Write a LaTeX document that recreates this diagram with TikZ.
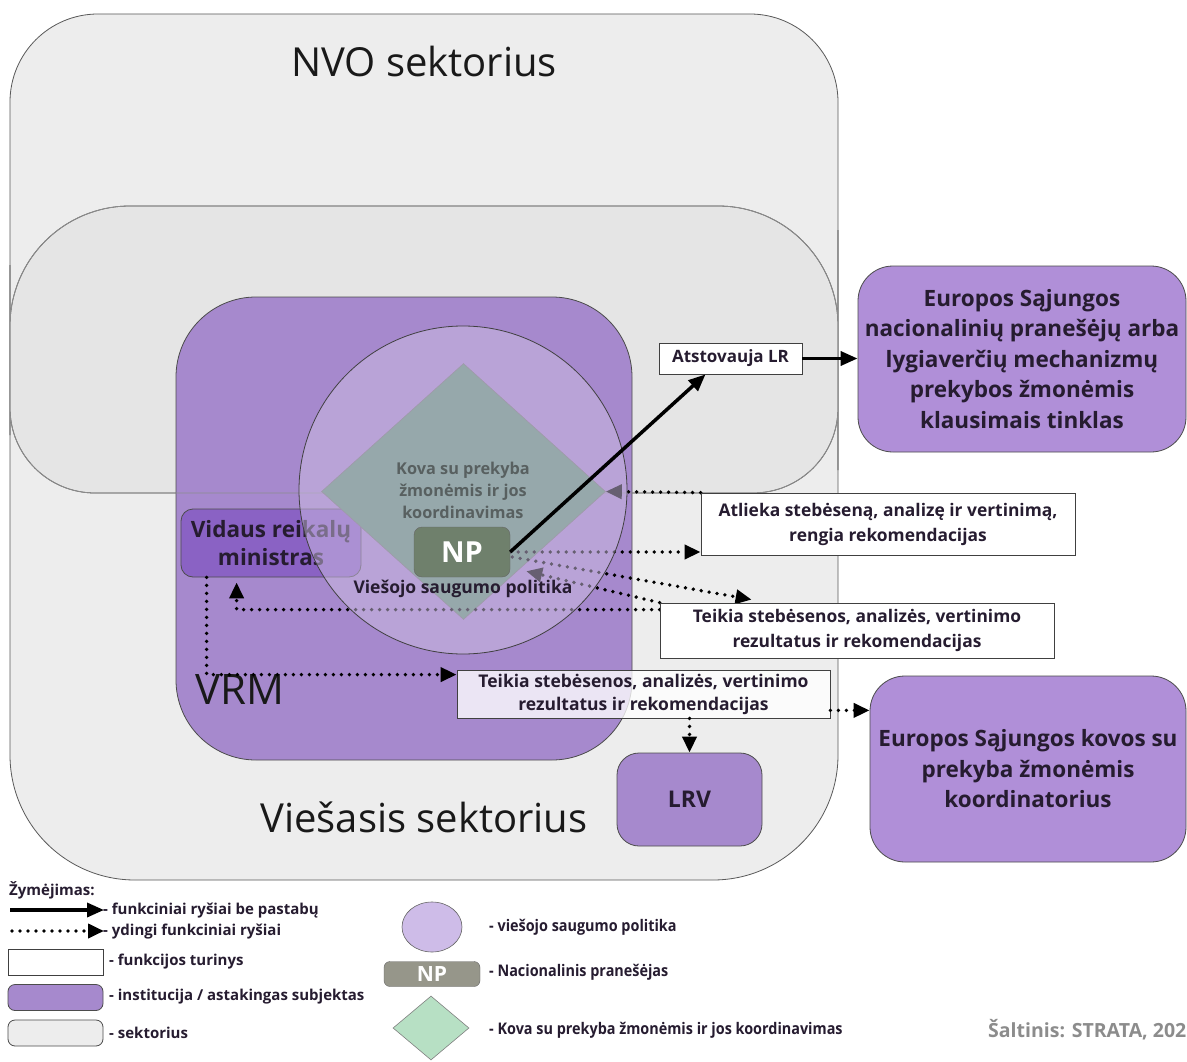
\documentclass[tikz,border=0pt]{standalone}
\usepackage{fontspec}
\setmainfont{Open Sans}
\newfontfamily\narrowfont{Open Sans}[FakeStretch=0.9]
\usetikzlibrary{arrows.meta, shapes.geometric, positioning, calc}
\pgfdeclarelayer{bg}
\pgfdeclarelayer{lines}
\pgfsetlayers{bg,lines,main}
\definecolor{outergray}{RGB}{237,237,237}
\definecolor{innergray}{RGB}{229,229,229}
\definecolor{vrmpurple}{RGB}{166,137,205}
\definecolor{eupurple}{RGB}{176,143,216}
\definecolor{minpurple}{RGB}{138,98,196}
\definecolor{vsppurple}{RGB}{205,190,226}
\definecolor{kovagreen}{RGB}{95,146,116}
\definecolor{kovatext}{RGB}{88,96,96}
\definecolor{npgreen}{RGB}{111,128,108}
\definecolor{npgray}{RGB}{150,150,138}
\definecolor{legpurple}{RGB}{206,188,232}
\definecolor{leggreen}{RGB}{183,224,196}
\definecolor{textdark}{RGB}{38,28,48}
\definecolor{srcgray}{RGB}{140,140,140}
\newcommand{\fs}[2]{\fontsize{#1}{#2}\selectfont}
\tikzset{
  sector/.style={fill=outergray, draw=black!65, line width=0.8pt},
  inst/.style={draw=black!70, fill=vrmpurple, line width=0.8pt, rounded corners=22pt, inner sep=0pt, align=center, text=textdark},
  funcbox/.style={draw=black!75, fill=white, line width=0.8pt, inner sep=0pt, align=center, text=textdark, font=\fs{17.4}{25}\bfseries},
  solidarrow/.style={line width=3.5pt, -{Triangle[length=17pt,width=14pt]}},
  dotarrow/.style={line width=3.8pt, line cap=round, dash pattern=on 0pt off 8pt, -{Triangle[length=16pt,width=14pt]}},
  legtxt/.style={anchor=west, inner sep=0pt, text=textdark, font=\fs{15}{17}\bfseries},
  legtxtb/.style={anchor=west, inner sep=0pt, text=textdark, font=\narrowfont\fs{16}{18}\bfseries}
}
\begin{document}
\begin{tikzpicture}[x=1pt,y=-1pt]
\useasboundingbox (0,0) rectangle (1187,1062);
\begin{pgfonlayer}{bg}
\fill[white] (0,0) rectangle (1187,1062);
\draw[sector] (10,400) [rounded corners=88pt] -- (10,14) -- (838,14) -- (838,400) [rounded corners=125pt] -- (838,880) -- (10,880) -- cycle;
\draw[sector, fill=innergray] (10,350) [rounded corners=120pt] -- (10,206) -- (838,206) -- (838,350) [rounded corners=85pt] -- (838,493) -- (10,493) -- cycle;
\node[font=\fs{40}{42}, text=black!90] (nvo) at (424,62) {NVO sektorius};
\node[font=\fs{40}{42}, text=black!90] (viesasis) at (424,817) {Viešasis sektorius};

\node[inst, rounded corners=80pt, minimum width=456pt, minimum height=463pt] (vrm) at (404,528.5) {};
\node[anchor=west, inner sep=0pt, font=\fs{42}{42}, text=black!90] (vrmlbl) at (195,690) {VRM};
\draw[black!45, line width=0.8pt] (10,350) [rounded corners=120pt] -- (10,206) -- (838,206) -- (838,350) [rounded corners=85pt] -- (838,493) -- (10,493) -- cycle;
\node[inst, minimum width=145pt, minimum height=93pt, font=\fs{23}{25}\bfseries] (lrv) at (689.5,799.5) {LRV};

\node[inst, fill=minpurple, rounded corners=12pt, minimum width=180pt, minimum height=68pt, font=\fs{22.5}{28}\bfseries] (ministras) at (271,543) {Vidaus reikalų\\ministras};
\node[diamond, fill=kovagreen, draw=black!55, line width=0.6pt, minimum width=284pt, minimum height=256pt, inner sep=0pt] (kova) at (463.5,491.5) {};
\end{pgfonlayer}

\node[circle, fill=vsppurple, fill opacity=0.5, draw=black!75, line width=0.8pt, minimum size=328pt, inner sep=0pt] (vsp) at (463,490) {};
\node[align=center, text=kovatext, font=\fs{16.3}{22}\bfseries] (kovatxt) at (463,490) {Kova su prekyba\\žmonėmis ir jos\\koordinavimas};
\node[text=textdark, font=\fs{17.5}{19}\bfseries] (vsptxt) at (463,589) {Viešojo saugumo politika};
\node[draw=black!60, fill=npgreen, rounded corners=8pt, minimum width=96pt, minimum height=50pt, inner sep=0pt, text=white, font=\fs{29}{30}\bfseries] (np) at (462,552) {NP};

\node[funcbox, minimum width=374pt, minimum height=62pt] (atlieka) at (888,524) {Atlieka stebėseną, analizę ir vertinimą,\\rengia rekomendacijas};
\node[funcbox, minimum width=394pt, minimum height=55pt] (teikia1) at (857,630.5) {Teikia stebėsenos, analizės, vertinimo\\rezultatus ir rekomendacijas};
\node[funcbox, fill opacity=0.78, text opacity=1, minimum width=373pt, minimum height=48pt, font=\fs{17.5}{23}\bfseries] (teikia2) at (643.5,694) {Teikia stebėsenos, analizės, vertinimo\\rezultatus ir rekomendacijas};
\node[funcbox, minimum width=143pt, minimum height=31pt, font=\fs{17}{19}\bfseries] (atstov) at (730.5,358.5) {Atstovauja LR};

\node[inst, fill=eupurple, rounded corners=35pt, minimum width=328pt, minimum height=186pt, font=\fs{22.5}{30.5}\bfseries] (eu1) at (1022,359) {Europos Sąjungos\\nacionalinių pranešėjų arba\\lygiaverčių mechanizmų\\prekybos žmonėmis\\klausimais tinklas};
\node[inst, fill=eupurple, rounded corners=35pt, minimum width=316pt, minimum height=186pt, font=\fs{22.5}{30.5}\bfseries] (eu2) at (1028,769) {Europos Sąjungos kovos su\\prekyba žmonėmis\\koordinatorius};

\begin{pgfonlayer}{lines}
\draw[dotarrow] (atlieka.north west) -- (kova.east);
\draw[dotarrow] (np.east) -- (np.east -| atlieka.west);
\draw[dotarrow] ($(np.east)+(2,5)$) -- ($(teikia1.north west)+(92,-3)$);
\draw[dotarrow] (teikia1.north west) -- ($(np.south east)+(16,-6)$);
\draw[dotarrow] ($(teikia1.north west)+(0,7)$) -| ($(ministras.south west)+(56,5)$);
\end{pgfonlayer}

\draw[solidarrow] (np.east) -- ($(atstov.south)+(-25,0)$);
\draw[solidarrow] (atstov.east) -- (atstov.east -| eu1.west);
\draw[dotarrow] ($(ministras.south west)+(26,0)$) |- ($(teikia2.north west)+(0,5)$);
\draw[dotarrow] (lrv.north |- teikia2.south) -- (lrv.north);
\coordinate (t2out) at ($(teikia2.south east)+(0,-8)$);
\draw[dotarrow] (t2out) -- (t2out -| eu2.west);

\node[legtxt] (zym) at (9,890) {Žymėjimas:};
\coordinate (lsolid1) at (10,910);
\coordinate (lsolid2) at (104,910);
\draw[solidarrow] (lsolid1) -- (lsolid2);
\node[legtxt] (lt1) at (103,911) {- funkciniai ryšiai be pastabų};
\coordinate (ldot1) at (12,931);
\coordinate (ldot2) at (104,931);
\draw[dotarrow] (ldot1) -- (ldot2);
\node[legtxt] (lt2) at (103,932) {- ydingi funkciniai ryšiai};
\node[funcbox, minimum width=95pt, minimum height=26pt] (lbox1) at (55.5,962.5) {};
\node[legtxt] (lt3) at (109,962) {- funkcijos turinys};
\node[inst, rounded corners=7pt, minimum width=95pt, minimum height=26pt] (lbox2) at (55.5,997.5) {};
\node[legtxt] (lt4) at (109,997) {- institucija / astakingas subjektas};
\node[inst, fill=outergray, rounded corners=7pt, minimum width=95pt, minimum height=26pt] (lbox3) at (55.5,1033) {};
\node[legtxt] (lt5) at (109,1033) {- sektorius};

\node[ellipse, fill=legpurple, draw=black!60, line width=0.6pt, minimum width=60pt, minimum height=50pt, inner sep=0pt] (lell) at (432,927) {};
\node[legtxtb] (lt6) at (489,927) {- viešojo saugumo politika};
\node[draw=black!60, fill=npgray, rounded corners=6pt, minimum width=96pt, minimum height=25pt, inner sep=0pt, text=white, font=\fs{21}{22}\bfseries] (lnp) at (432,974) {NP};
\node[legtxtb] (lt7) at (489,972) {- Nacionalinis pranešėjas};
\node[diamond, fill=leggreen, draw=black!50, line width=0.6pt, minimum width=76pt, minimum height=64pt, inner sep=0pt] (ldia) at (431,1028) {};
\node[legtxtb] (lt8) at (489,1030) {- Kova su prekyba žmonėmis ir jos koordinavimas};
\node[anchor=west, inner sep=0pt, text=srcgray, font=\fs{19.5}{21}\bfseries] (src) at (988,1030) {Šaltinis: STRATA, 202};
\end{tikzpicture}
\end{document}
